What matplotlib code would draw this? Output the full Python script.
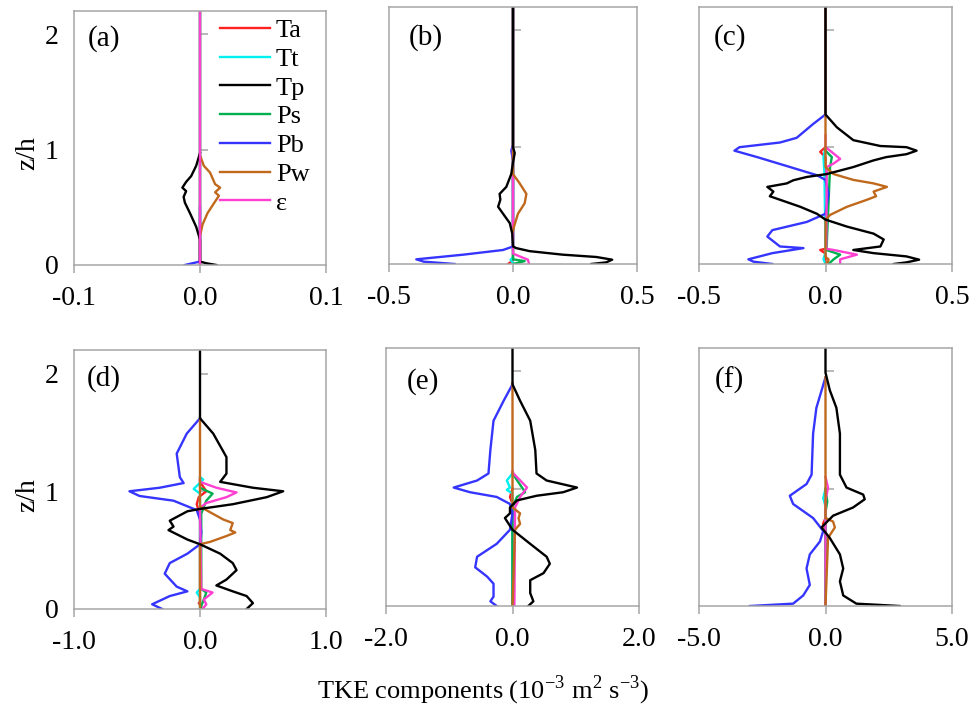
import matplotlib.pyplot as plt
import matplotlib.lines as mlines

plt.rcParams['font.family'] = ['Liberation Serif', 'DejaVu Serif']
plt.rcParams['mathtext.fontset'] = 'custom'
plt.rcParams['mathtext.rm'] = 'Liberation Serif'
plt.rcParams['axes.unicode_minus'] = False

# series names / colours (legend order)
names = ['Ta', 'Tt', 'Tp', 'Ps', 'Pb', 'Pw', 'ε']
colors = ['#FF2020', '#00F0F0', '#000000', '#00B050', '#3535FF', '#C0691C', '#FF3FD0']
labels = ['(a)', '(b)', '(c)', '(d)', '(e)', '(f)']
xlims = [0.1, 0.5, 0.5, 1.0, 2.0, 5.0]

# each series: (z/h values, TKE values)
panel_a = {
    'Ta': ([0, 2.2], [0, 0]),
    'Tt': ([0, 2.2], [0, 0]),
    'Tp': ([0.97, 0.86, 0.77, 0.72, 0.67, 0.64, 0.59, 0.54, 0.45, 0.33, 0.22, 0.03, 0.015, 0],
           [0, -0.003, -0.007, -0.011, -0.014, -0.011, -0.013, -0.012, -0.008, -0.003, 0, 0, 0.005, 0.013]),
    'Ps': ([0, 2.2], [0, 0]),
    'Pb': ([0.5, 0.03, 0], [0, 0, -0.012]),
    'Pw': ([0.95, 0.86, 0.8, 0.75, 0.7, 0.67, 0.63, 0.6, 0.55, 0.45, 0.35, 0.25, 0],
           [0, 0.003, 0.008, 0.01, 0.012, 0.016, 0.012, 0.015, 0.012, 0.006, 0.002, 0, 0]),
    'ε': ([0, 2.2], [0, 0]),
}
panel_b = {
    'Ta': ([2.2, 0.03, 0], [0, 0, -0.02]),
    'Tt': ([2.2, 0.06, 0.035, 0], [0, 0, -0.01, 0.005]),
    'Tp': ([2.2, 1.0, 0.95, 0.87, 0.77, 0.66, 0.60, 0.55, 0.49, 0.43, 0.35, 0.26, 0.15, 0.136, 0.11,
            0.08, 0.06, 0.037, 0.014, 0],
           [0, 0, 0.007, 0, -0.007, -0.027, -0.054, -0.051, -0.06, -0.04, -0.013, -0.003, 0, 0.013, 0.067,
            0.2, 0.336, 0.40, 0.376, 0.316]),
    'Ps': ([2.2, 0.04, 0.025, 0.01, 0], [0, 0, 0.047, 0.02, 0]),
    'Pb': ([2.2, 1.02, 0.97, 0.89, 0.15, 0.12, 0.08, 0.04, 0.02, 0],
           [0, 0, -0.007, 0, 0, -0.04, -0.2, -0.39, -0.36, -0.235]),
    'Pw': ([2.2, 0.77, 0.69, 0.6, 0.52, 0.43, 0.32, 0.28],
           [0, 0, 0.027, 0.054, 0.047, 0.02, 0.004, 0]),
    'ε': ([2.2, 0.09, 0.065, 0.037, 0], [0, 0, 0.027, 0.06, 0.065]),
}
panel_c = {
    'Ta': ([1.0, 0.96, 0.915, 0.13, 0.12, 0.09, 0], [0, -0.021, 0, 0, -0.021, 0, 0]),
    'Tt': ([1.0, 0.915, 0.77, 0.1, 0.04, 0], [0, -0.008, -0.004, 0, -0.008, 0]),
    'Tp': ([2.2, 1.28, 1.17, 1.06, 1.01, 1.0, 0.97, 0.94, 0.915, 0.887, 0.83, 0.77, 0.745, 0.717, 0.69,
            0.66, 0.62, 0.58, 0.55, 0.49, 0.43, 0.38, 0.32, 0.26, 0.21, 0.15, 0.12, 0.093, 0.065, 0.037,
            0.014, 0],
           [0, 0, 0.045, 0.11, 0.217, 0.32, 0.36, 0.32, 0.24, 0.19, 0.11, 0.005, -0.074, -0.127, -0.153,
            -0.23, -0.206, -0.22, -0.18, -0.1, -0.034, 0, 0.085, 0.19, 0.23, 0.217, 0.11, 0.19, 0.32, 0.37,
            0.32, 0.27]),
    'Ps': ([1.0, 0.97, 0.915, 0.83, 0.12, 0.08, 0.04, 0], [0, 0, 0.025, 0.018, 0.004, 0.058, 0.032, 0.012]),
    'Pb': ([2.2, 1.28, 1.2, 1.08, 1.04, 1.0, 0.97, 0.915, 0.83, 0.76, 0.72, 0.6, 0.43, 0.36, 0.29, 0.235,
            0.15, 0.136, 0.093, 0.04, 0.02, 0],
           [0, 0, -0.048, -0.114, -0.18, -0.34, -0.36, -0.27, -0.14, -0.034, 0, 0.012, 0, -0.074, -0.21,
            -0.23, -0.18, -0.087, -0.21, -0.305, -0.285, -0.21]),
    'Pw': ([2.2, 0.83, 0.77, 0.72, 0.69, 0.66, 0.62, 0.58, 0.55, 0.49, 0.42, 0.38, 0.06, 0.04, 0.02, 0],
           [0, 0, 0.032, 0.11, 0.19, 0.243, 0.19, 0.2, 0.164, 0.085, 0.018, 0, 0, 0.012, 0.01, 0]),
    'ε': ([1.1, 1.0, 0.97, 0.9, 0.86, 0.83, 0.13, 0.12, 0.08, 0.04, 0],
          [0, 0, 0.018, 0.058, 0.032, 0.005, 0.003, 0.032, 0.124, 0.058, 0.058]),
}
panel_d = {
    'Ta': ([1.1, 1.08, 1.0, 0.95, 0.89, 0.8, 0.06, 0.05, 0.02, 0], [0, 0, 0.05, -0.01, -0.026, 0, 0, -0.01, 0.01, 0]),
    'Tt': ([1.12, 1.1, 1.02, 0.98, 0.17, 0.14, 0.1, 0], [0, 0.026, -0.05, 0, 0, -0.026, 0, 0]),
    'Tp': ([2.2, 1.62, 1.49, 1.29, 1.15, 1.08, 1.03, 1.0, 0.95, 0.89, 0.85, 0.83, 0.75, 0.7, 0.67, 0.59,
            0.55, 0.47, 0.39, 0.33, 0.25, 0.2, 0.15, 0.11, 0.05, 0],
           [0, 0, 0.105, 0.21, 0.21, 0.16, 0.42, 0.66, 0.53, 0.26, 0, -0.1, -0.24, -0.21, -0.25, -0.1,
            0, 0.16, 0.26, 0.29, 0.21, 0.13, 0.26, 0.37, 0.42, 0.37]),
    'Ps': ([1.06, 1.03, 0.98, 0.92, 0.81, 0.17, 0.14, 0.08, 0], [0, 0, 0.1, 0.05, 0.01, 0.01, 0.05, 0.03, 0]),
    'Pb': ([1.62, 1.49, 1.32, 1.12, 1.07, 1.03, 1.0, 0.96, 0.92, 0.84, 0.76, 0.65, 0.55, 0.47, 0.39, 0.3,
            0.19, 0.15, 0.11, 0.04, 0],
           [0, -0.105, -0.185, -0.16, -0.13, -0.32, -0.56, -0.48, -0.21, -0.026, 0, 0.01, 0, -0.1, -0.24,
            -0.28, -0.185, -0.1, -0.24, -0.38, -0.3]),
    'Pw': ([1.62, 0.87, 0.81, 0.76, 0.73, 0.67, 0.65, 0.62, 0.57, 0.55, 0],
           [0, 0, 0.1, 0.185, 0.26, 0.24, 0.28, 0.21, 0.08, 0, 0]),
    'ε': ([1.1, 1.08, 1.03, 0.99, 0.95, 0.9, 0.86, 0.17, 0.14, 0.08, 0.04, 0],
          [0, 0, 0.13, 0.29, 0.21, 0.05, 0, 0.01, 0.1, 0.03, 0.05, 0.02]),
}
panel_e = {
    'Ta': ([1.0, 0.93, 0.87, 0], [0, -0.04, 0, 0]),
    'Tt': ([1.13, 1.07, 1.01, 0.99, 0.96, 0], [0, -0.09, -0.04, -0.09, 0, 0]),
    'Tp': ([2.2, 1.89, 1.75, 1.58, 1.33, 1.13, 1.07, 1.01, 0.97, 0.94, 0.9, 0.84, 0.79, 0.75, 0.7, 0.65,
            0.53, 0.42, 0.36, 0.28, 0.22, 0.11, 0.04, 0],
           [0, 0, 0.12, 0.28, 0.36, 0.38, 0.54, 1.02, 0.8, 0.38, 0.07, -0.04, -0.04, -0.12, -0.06, 0,
            0.28, 0.54, 0.59, 0.49, 0.28, 0.28, 0.33, 0.25]),
    'Ps': ([1.13, 0.97, 0.93, 0.84, 0], [0, 0.2, 0.07, 0, 0]),
    'Pb': ([1.89, 1.75, 1.58, 1.33, 1.13, 1.07, 1.01, 0.97, 0.93, 0.87, 0.79, 0.65, 0.53, 0.42, 0.33,
            0.25, 0.19, 0.08, 0.04, 0],
           [0, -0.14, -0.3, -0.35, -0.38, -0.56, -0.93, -0.67, -0.25, -0.04, 0, -0.04, -0.25, -0.56, -0.59,
            -0.4, -0.3, -0.3, -0.35, -0.25]),
    'Pw': ([1.9, 0.84, 0.79, 0.75, 0.7, 0.65, 0], [0, 0, 0.12, 0.095, 0.12, 0.04, 0]),
    'ε': ([1.15, 1.13, 1.01, 0.93, 0.84, 0], [0, 0.015, 0.23, 0.12, 0.04, 0.03]),
}
panel_f = {
    'Ta': ([0.75, 0.7, 0.65, 0], [0, -0.1, 0, 0]),
    'Tt': ([1.0, 0.92, 0.85, 0], [0, -0.09, 0, 0]),
    'Tp': ([2.2, 1.99, 1.84, 1.69, 1.47, 1.12, 1.01, 0.95, 0.91, 0.84, 0.77, 0.67, 0.58, 0.44, 0.32,
            0.21, 0.09, 0.02, 0],
           [0, 0, 0.17, 0.43, 0.57, 0.57, 0.83, 1.49, 1.55, 1.09, 0.3, -0.16, 0.17, 0.57, 0.7,
            0.57, 0.7, 1.22, 2.93]),
    'Ps': ([1.0, 0.89, 0.8, 0], [0, 0.07, 0, 0]),
    'Pb': ([1.95, 1.69, 1.47, 1.12, 1.04, 0.94, 0.87, 0.75, 0.64, 0.55, 0.44, 0.32, 0.18, 0.09, 0.02, 0],
           [0, -0.36, -0.49, -0.55, -0.75, -1.41, -1.28, -0.49, -0.09, -0.22, -0.62, -0.75, -0.62,
            -0.88, -1.28, -2.99]),
    'Pw': ([1.95, 0.75, 0.72, 0.67, 0.58, 0], [0, 0, 0.3, 0.37, 0.1, 0]),
    'ε': ([1.1, 1.01, 0.9, 0], [0, 0.1, 0, 0]),
}
panels = [panel_a, panel_b, panel_c, panel_d, panel_e, panel_f]

# axes boxes in pixels: left, top, right, bottom
boxes = [(74, 11, 326, 265), (389, 7, 637, 264), (699, 7, 952, 264),
         (74, 350, 326, 609), (386, 348, 639, 606), (699, 348, 952, 606)]
# panel letter spots (axes fraction)
label_pos = [(0.055, 0.89), (0.08, 0.88), (0.06, 0.88), (0.052, 0.89), (0.083, 0.87), (0.063, 0.876)]

W, H = 974, 717
gray = '#A6A6A6'
fig = plt.figure(figsize=(W / 100, H / 100), dpi=100)

for i, data in enumerate(panels):
    l, t, r, b = boxes[i]
    ax = fig.add_axes([l / W, 1 - b / H, (r - l) / W, (b - t) / H])
    lim = xlims[i]
    order = ['Ta', 'Tt', 'Ps', 'Pb', 'ε', 'Pw', 'Tp']
    if i == 0:
        order = ['Ta', 'Tt', 'Ps', 'Pb', 'Pw', 'Tp', 'ε']
    for name in order:
        z, v = data[name]
        ax.plot(v, z, color=colors[names.index(name)], lw=1.7, solid_joinstyle='round')
    ax.set_xlim(-lim, lim)
    ax.set_ylim(0, 2.2)
    ax.set_xticks([-lim, 0, lim])
    ax.set_xticklabels([f'{v:.1f}' for v in (-lim, 0.0, lim)])
    for s in ax.spines.values():
        s.set_color(gray)
        s.set_linewidth(1.1)
    ax.tick_params(axis='x', direction='out', length=6, width=1.1, color=gray, labelsize=20, pad=9)
    ax.set_yticks([0, 1, 2])
    ax.tick_params(axis='y', length=0, labelsize=20, pad=11)
    if i % 3 != 0:
        ax.set_yticklabels([])
    else:
        ax.set_ylabel('z/h', fontsize=20)
        ax.yaxis.set_label_coords(-0.135, 0.44)
    # y axis crossing at x = 0
    sec = ax.secondary_yaxis(0.5)
    sec.set_yticks([1, 2])
    sec.spines['left'].set_visible(False)
    sec.spines['right'].set_visible(False)
    sec.tick_params(axis='y', direction='out', length=6, width=1.1, color=gray, labelleft=False, labelright=False)
    lx, ly = label_pos[i]
    ax.text(lx, ly, labels[i], transform=ax.transAxes, fontsize=21, va='center', ha='left')

    if i == 0:
        handles = [mlines.Line2D([], [], color=c, lw=1.7) for c in colors]
        ax.legend(handles, names, loc='upper left', bbox_to_anchor=(0.567, 0.98), frameon=False,
                  fontsize=19, handlelength=1.9, handletextpad=0.23, labelspacing=0.2,
                  borderpad=0.1, borderaxespad=0)

fig.text(483 / W, 1 - 690 / H, 'TKE components (10$^{-3}$ m$^{2}$ s$^{-3}$)', fontsize=19,
         ha='center', va='center')

fig.savefig('out.png', dpi=100)
